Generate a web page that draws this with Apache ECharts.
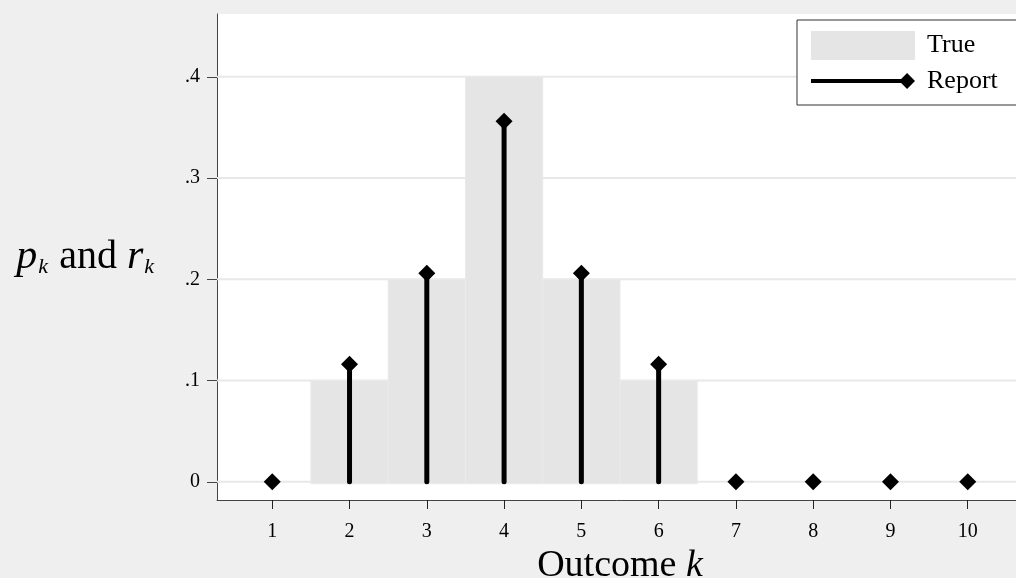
<!DOCTYPE html>
<html>
<head>
<meta charset="utf-8">
<script src="https://cdn.jsdelivr.net/npm/echarts@6/dist/echarts.min.js"></script>
<style>
  html, body { margin: 0; padding: 0; background: #efefef; }
  #chart { width: 1016px; height: 578px; }
</style>
</head>
<body>
<div id="chart"></div>
<script>
  // outcomes k = 1..10
  const outcomes = [1, 2, 3, 4, 5, 6, 7, 8, 9, 10];
  // true distribution p_k
  const trueProb = [0, 0.1, 0.2, 0.4, 0.2, 0.1, 0, 0, 0, 0];
  // reported distribution r_k
  const reportProb = [0, 0.116, 0.206, 0.356, 0.206, 0.116, 0, 0, 0, 0];
  // y tick labels
  const yTicks = [0, 0.1, 0.2, 0.3, 0.4];

  const font = 'Liberation Serif';
  const chart = echarts.init(document.getElementById('chart'));

  chart.setOption({
    backgroundColor: '#efefef',
    animation: false,
    grid: {
      left: 217, top: 14, width: 806, height: 486,
      show: true, backgroundColor: '#fff', borderWidth: 0,
      outerBoundsMode: 'none'
    },
    legend: {
      orient: 'vertical',
      left: 797, top: 20,
      padding: [11, 60, 11, 14],
      itemWidth: 104, itemHeight: 29, itemGap: 8,
      symbolKeepAspect: true,
      backgroundColor: '#fff',
      borderColor: '#333', borderWidth: 1, borderRadius: 0,
      textStyle: { fontFamily: font, fontSize: 26, color: '#000', padding: [0, 0, 0, 7] },
      data: [
        { name: 'True', icon: 'rect', itemStyle: { color: '#e5e5e5' } },
        { name: 'Report', icon: 'path://M0,6 L91,6 L97,0 L105,8 L97,16 L91,10 L0,10 Z', itemStyle: { color: '#000' } }
      ]
    },
    xAxis: {
      type: 'value',
      min: 0.285, max: 10.715,
      name: '{n|Outcome }{i|k}',
      nameLocation: 'middle', nameGap: 45,
      nameTextStyle: {
        verticalAlign: 'top',
        rich: {
          n: { fontFamily: font, fontSize: 38, color: '#000' },
          i: { fontFamily: font, fontSize: 38, fontStyle: 'italic', color: '#000' }
        }
      },
      axisLine: { show: true, onZero: false, lineStyle: { color: '#444', width: 1 } },
      axisTick: { show: true, customValues: outcomes, length: 9, lineStyle: { color: '#222' } },
      axisLabel: { customValues: outcomes, margin: 22, fontFamily: font, fontSize: 20, color: '#000' },
      splitLine: { show: false }
    },
    yAxis: {
      type: 'value',
      min: -0.018, max: 0.462,
      name: '{i|p}{s|k}{n| and }{i|r}{s|k}',
      nameLocation: 'middle', nameRotate: 0, nameGap: 62,
      nameTextStyle: {
        align: 'right',
        rich: {
          i: { fontFamily: font, fontSize: 42, fontStyle: 'italic', color: '#000' },
          s: { fontFamily: font, fontSize: 22, fontStyle: 'italic', color: '#000', verticalAlign: 'bottom', padding: [14, 1, 0, 1] },
          n: { fontFamily: font, fontSize: 40, color: '#000' }
        }
      },
      axisLine: { show: true, onZero: false, lineStyle: { color: '#444', width: 1 } },
      axisTick: { show: true, customValues: yTicks, length: 10, lineStyle: { color: '#444' } },
      axisLabel: {
        customValues: yTicks, margin: 17, fontFamily: font, fontSize: 20, color: '#000',
        formatter: v => v === 0 ? '0' : String(v).replace(/^0/, '')
      },
      splitLine: { show: false }
    },
    series: [
      {
        // horizontal grid lines at the y ticks
        name: 'grid', type: 'custom', z: 1, silent: true,
        data: yTicks.map(v => [outcomes[0], v]),
        renderItem: (params, api) => {
          const y = api.coord([api.value(0), api.value(1)])[1];
          const cs = params.coordSys;
          return {
            type: 'line',
            shape: { x1: cs.x, y1: y, x2: cs.x + cs.width, y2: y },
            style: { stroke: '#e8e8e8', lineWidth: 2 }
          };
        }
      },
      {
        name: 'True', type: 'custom', z: 2,
        data: outcomes.map((k, i) => [k, trueProb[i]]),
        renderItem: (params, api) => {
          const k = api.value(0), p = api.value(1);
          if (p <= 0) return null;
          const a = api.coord([k - 0.5, p]);
          const b = api.coord([k + 0.5, 0]);
          return {
            type: 'rect',
            shape: { x: a[0], y: a[1], width: b[0] - a[0], height: b[1] - a[1] + 2 },
            style: { fill: '#e5e5e5', stroke: '#eaeaea', lineWidth: 1 }
          };
        },
        itemStyle: { color: '#e5e5e5' }
      },
      {
        name: 'Report', type: 'custom', z: 3,
        data: outcomes.map((k, i) => [k, reportProb[i]]),
        itemStyle: { color: '#000' },
        renderItem: (params, api) => {
          const k = api.value(0), r = api.value(1);
          if (r <= 0) return null;
          const a = api.coord([k, 0]);
          const b = api.coord([k, r]);
          return {
            type: 'line',
            shape: { x1: a[0], y1: a[1], x2: b[0], y2: b[1] },
            style: { stroke: '#000', lineWidth: 5, lineCap: 'round' }
          };
        }
      },
      {
        name: 'points', type: 'scatter', z: 4,
        symbol: 'diamond', symbolSize: [17, 17],
        itemStyle: { color: '#000', opacity: 1 },
        data: outcomes.map((k, i) => [k, reportProb[i]])
      }
    ]
  });
</script>
</body>
</html>
